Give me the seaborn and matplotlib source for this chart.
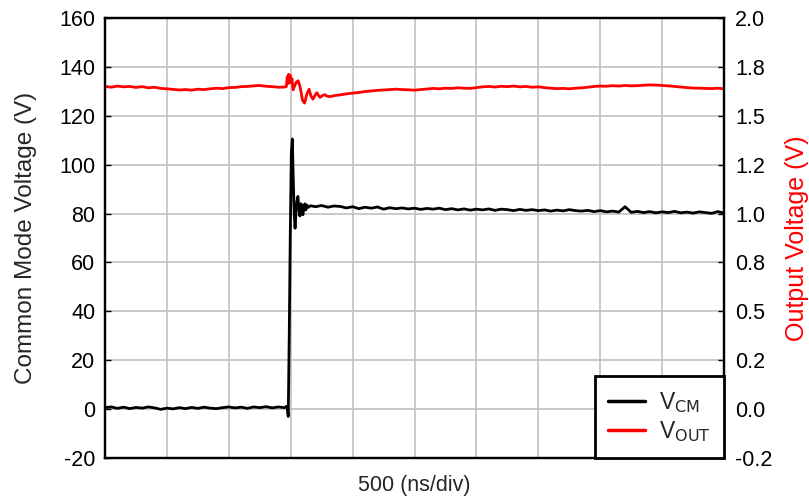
import numpy as np
import pandas as pd
import matplotlib
matplotlib.use("Agg")
import matplotlib.pyplot as plt
from matplotlib.lines import Line2D
import seaborn as sns

# common mode voltage (V) vs time (ns)
vcm_t = [0, 50, 100, 150, 200, 250, 300, 350, 400, 450, 500, 550, 600, 650, 700,
         750, 800, 850, 900, 950, 1000, 1050, 1100, 1150, 1200, 1250, 1300, 1350,
         1400, 1450, 1470, 1480, 1488, 1496, 1505, 1513, 1520, 1528, 1535, 1542,
         1550, 1558, 1566, 1574, 1582, 1590, 1598, 1606, 1614, 1622, 1630, 1640,
         1660, 1700, 1750, 1800, 1850, 1900, 1950, 2000, 2050, 2100, 2150, 2200,
         2250, 2300, 2350, 2400, 2450, 2500, 2550, 2600, 2650, 2700, 2750, 2800,
         2850, 2900, 2950, 3000, 3050, 3100, 3150, 3200, 3250, 3300, 3350, 3400,
         3450, 3500, 3550, 3600, 3650, 3700, 3750, 3800, 3850, 3900, 3950, 4000,
         4050, 4100, 4150, 4200, 4250, 4300, 4350, 4400, 4450, 4500, 4550, 4600,
         4650, 4700, 4750, 4800, 4850, 4900, 4950, 5000]
vcm_v = [0.6, 0.9, 0.3, 0.8, 0.2, 0.7, 0.4, 0.9, 0.5, -0.1, 0.4, 0.1, 0.6, 0.2, 0.7,
         0.3, 0.8, 0.4, 0.2, 0.6, 0.9, 0.5, 0.8, 0.3, 0.9, 0.6, 1.0, 0.5,
         0.9, 0.6, 1.2, -3.0, 30, 70, 105, 110.5, 95, 80, 74, 80,
         85, 87, 82, 79, 84, 83.5, 79.5, 82, 84, 81.5, 83.5, 82.5,
         83.2, 82.8, 83.3, 82.6, 83.1, 82.9, 82.3, 82.8, 82.0, 82.6, 82.2, 82.7,
         81.8, 82.4, 82.0, 82.3, 81.9, 82.2, 81.7, 82.1, 81.8, 82.2, 81.6, 82.0,
         81.5, 81.9, 81.4, 81.8, 81.5, 81.9, 81.3, 81.8, 81.6, 81.2, 81.7, 81.3,
         81.6, 81.2, 81.5, 81.0, 81.4, 81.1, 81.6, 81.2, 81.0, 81.3, 80.8, 81.2,
         80.7, 81.0, 80.6, 82.8, 80.5, 80.9, 80.4, 80.8, 80.3, 80.7, 80.4, 80.9,
         80.3, 80.6, 80.2, 80.7, 80.4, 80.1, 80.8, 80.2]

# output voltage (V) vs time (ns)
vout_t = [0, 50, 100, 150, 200, 250, 300, 350, 400, 450, 500, 550, 600, 650, 700,
          750, 800, 850, 900, 950, 1000, 1050, 1100, 1150, 1200, 1250, 1300, 1350,
          1400, 1450, 1465, 1472, 1478, 1484, 1490, 1496, 1502, 1510, 1519, 1530,
          1545, 1560, 1575, 1595, 1612, 1630, 1648, 1664, 1680, 1696, 1712, 1725,
          1737, 1755, 1775, 1793, 1820, 1850, 1900, 1950, 2000, 2050, 2100, 2150,
          2200, 2250, 2300, 2350, 2400, 2450, 2500, 2550, 2600, 2650, 2700, 2750,
          2800, 2850, 2900, 2950, 3000, 3050, 3100, 3150, 3200, 3250, 3300, 3350,
          3400, 3450, 3500, 3550, 3600, 3650, 3700, 3750, 3800, 3850, 3900, 3950,
          4000, 4050, 4100, 4150, 4200, 4250, 4300, 4350, 4400, 4450, 4500, 4550,
          4600, 4650, 4700, 4750, 4800, 4850, 4900, 4950, 5000]
vout_v = [1.650, 1.646, 1.652, 1.648, 1.650, 1.645, 1.649, 1.643, 1.646, 1.640,
          1.638, 1.635, 1.632, 1.634, 1.631, 1.636, 1.634, 1.638, 1.641, 1.639,
          1.644, 1.645, 1.649, 1.650, 1.653, 1.655, 1.651, 1.649, 1.646, 1.647,
          1.650, 1.700, 1.665, 1.712, 1.668, 1.706, 1.672, 1.690, 1.633, 1.650,
          1.672, 1.679, 1.650, 1.580, 1.565, 1.610, 1.636, 1.600, 1.585, 1.605,
          1.618, 1.603, 1.594, 1.603, 1.608, 1.600, 1.598, 1.603, 1.607, 1.612,
          1.616, 1.619, 1.624, 1.627, 1.630, 1.632, 1.634, 1.636, 1.634, 1.633,
          1.631, 1.634, 1.637, 1.640, 1.638, 1.641, 1.640, 1.643, 1.641, 1.640,
          1.644, 1.648, 1.650, 1.647, 1.651, 1.649, 1.652, 1.648, 1.650, 1.646,
          1.648, 1.644, 1.641, 1.639, 1.640, 1.638, 1.641, 1.643, 1.646, 1.650,
          1.652, 1.651, 1.654, 1.652, 1.655, 1.653, 1.654, 1.656, 1.658, 1.657,
          1.655, 1.653, 1.650, 1.647, 1.644, 1.642, 1.641, 1.640, 1.639, 1.641,
          1.638]

left_ticks = [-20, 0, 20, 40, 60, 80, 100, 120, 140, 160]
right_ticks = [-0.25, 0, 0.25, 0.5, 0.75, 1.0, 1.25, 1.5, 1.75, 2.0]
x_ticks = [0, 500, 1000, 1500, 2000, 2500, 3000, 3500, 4000, 4500, 5000]

vcm = pd.DataFrame({'t': vcm_t, 'v': vcm_v})
vout = pd.DataFrame({'t': vout_t, 'v': vout_v})

sns.set_style('white')
plt.rcParams['font.family'] = ['Liberation Sans', 'DejaVu Sans']
plt.rcParams['axes.unicode_minus'] = False

fig = plt.figure(figsize=(8.09, 4.96), dpi=100)
ax = fig.add_axes([0.1298, 0.0766, 0.7652, 0.8871])
ax2 = ax.twinx()

sns.lineplot(data=vcm, x='t', y='v', ax=ax, color='black', linewidth=2, legend=False)
sns.lineplot(data=vout, x='t', y='v', ax=ax2, color='red', linewidth=2, legend=False)

ax.set_xlim(0, 5000)
ax.set_ylim(-20, 160)
ax2.set_ylim(-0.25, 2.0)
ax.set_xticks(x_ticks)
ax.set_xticklabels([])
ax.set_yticks(left_ticks)
ax2.set_yticks(right_ticks)
ax2.set_yticklabels(['%.1f' % v for v in right_ticks])

ax.grid(True, color='#c0c0c0', linewidth=1.2)
ax2.grid(False)
ax.set_axisbelow(True)

ax.tick_params(axis='both', direction='in', length=4, width=1, labelsize=15.5,
               colors='black', pad=7)
ax2.tick_params(axis='y', direction='in', length=4, width=1, labelsize=15.5,
                colors='black', pad=8)

for a in (ax, ax2):
    for s in a.spines.values():
        s.set_color('black')
        s.set_linewidth(1.6)

ax.set_xlabel('500 (ns/div)', fontsize=15.5, labelpad=5)
ax.set_ylabel('Common Mode Voltage (V)', fontsize=17.5, labelpad=16)
ax2.set_ylabel('Output Voltage (V)', fontsize=18, color='red', labelpad=9)

handles = [Line2D([], [], color='black', linewidth=2.5),
           Line2D([], [], color='red', linewidth=2.5)]
leg = ax2.legend(handles, [r'V$_{\mathrm{CM}}$', r'V$_{\mathrm{OUT}}$'],
                 loc='lower right', fontsize=16.5, frameon=True, fancybox=False,
                 borderaxespad=0, handlelength=1.6, borderpad=0.6,
                 labelspacing=0.2, handletextpad=0.6)
leg.get_frame().set_edgecolor('black')
leg.get_frame().set_linewidth(2)
leg.get_frame().set_facecolor('white')
leg.get_frame().set_alpha(1)

plt.savefig('out.png', dpi=100)
